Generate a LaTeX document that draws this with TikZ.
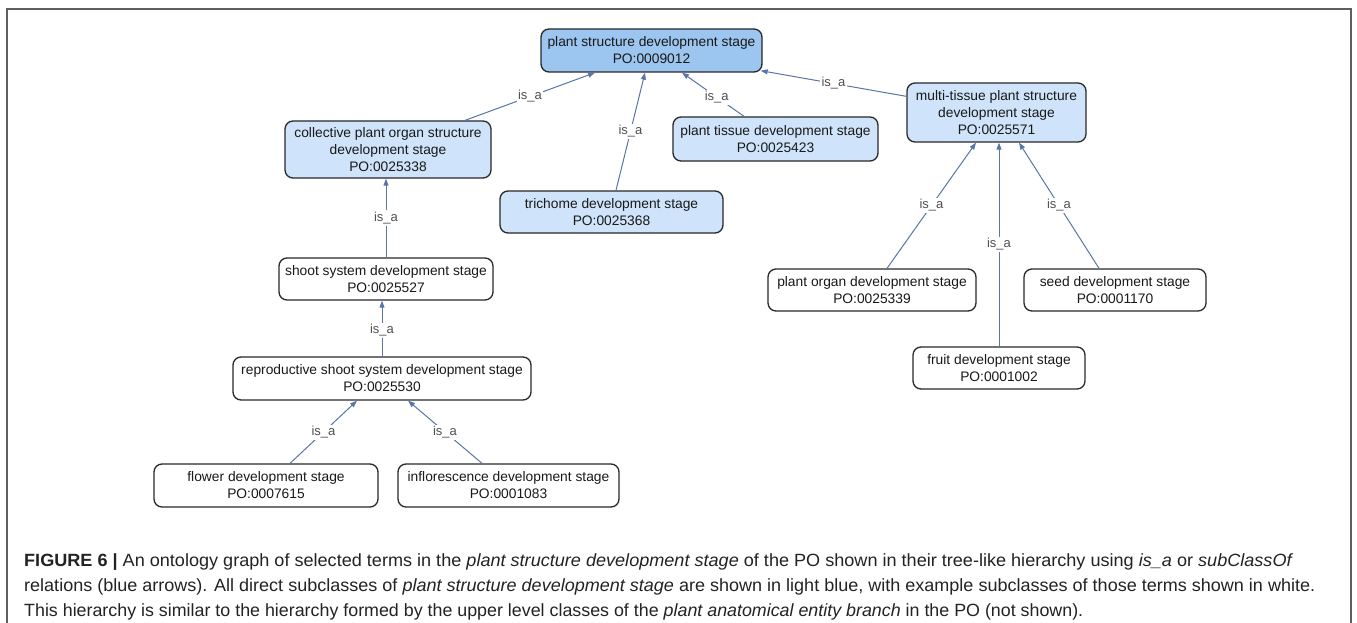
\documentclass[tikz,border=0pt]{standalone}
\usepackage{fontspec}
\setmainfont{Liberation Sans}
\usetikzlibrary{arrows.meta}
\definecolor{framegray}{RGB}{95,95,95}
\definecolor{rootblue}{RGB}{156,197,240}
\definecolor{subblue}{RGB}{207,228,250}
\definecolor{edgeblue}{RGB}{88,118,168}
\definecolor{labelgray}{RGB}{80,80,80}
\definecolor{nodeline}{RGB}{40,40,40}
\definecolor{captext}{RGB}{35,35,35}
% caption lines are set to a given width by scaling them horizontally
\newsavebox\capbox
\newlength\capw
\newcommand\capline[2]{\sbox\capbox{#2}\setlength\capw{\wd\capbox}\pgfmathsetmacro\capratio{#1/\capw}\scalebox{\capratio}[1]{\usebox\capbox}}

\begin{document}
\begin{tikzpicture}[x=1pt,y=-1pt,
  term/.style={draw=nodeline, line width=1.3pt, rounded corners=8pt, align=center,
    inner sep=0pt, text=black!90, font=\fontsize{13.8}{17}\selectfont},
  rootterm/.style={term, fill=rootblue},
  subterm/.style={term, fill=subblue},
  leafterm/.style={term, fill=white},
  isa/.style={draw=edgeblue, line width=1pt, -{Triangle[length=7pt,width=5pt]}},
  isalabel/.style={fill=white, inner sep=1.5pt, text=labelgray, font=\fontsize{13}{13}\selectfont},
  capstyle/.style={anchor=base west, inner sep=0pt, text=captext, font=\fontsize{17.7}{20}\selectfont}]

\useasboundingbox (0,0) rectangle (1357,623);
\fill[white] (0,0) rectangle (1357,623);

% outer frame
\draw[framegray, line width=1.5pt] (7,623) -- (7,9) -- (1351,9) -- (1351,623);

% terms
\node[rootterm, minimum width=221pt, minimum height=43pt] (top) at (651.5,50.5)
  {plant structure development stage\\PO:0009012};
\node[subterm, minimum width=206pt, minimum height=57pt] (coll) at (388,149.5)
  {collective plant organ structure\\development stage\\PO:0025338};
\node[subterm, minimum width=205pt, minimum height=44pt] (tissue) at (775.5,139)
  {plant tissue development stage\\PO:0025423};
\node[subterm, minimum width=179pt, minimum height=59pt] (multi) at (996.5,112.5)
  {multi-tissue plant structure\\development stage\\PO:0025571};
\node[subterm, minimum width=223pt, minimum height=42pt] (trich) at (611.5,212)
  {trichome development stage\\PO:0025368};
\node[leafterm, minimum width=214pt, minimum height=42pt] (shoot) at (386,279)
  {shoot system development stage\\PO:0025527};
\node[leafterm, minimum width=298pt, minimum height=43pt] (repro) at (382,378.5)
  {reproductive shoot system development stage\\PO:0025530};
\node[leafterm, minimum width=224pt, minimum height=43pt] (flower) at (266,485.5)
  {flower development stage\\PO:0007615};
\node[leafterm, minimum width=221pt, minimum height=43pt] (infl) at (508.5,485.5)
  {inflorescence development stage\\PO:0001083};
\node[leafterm, minimum width=208pt, minimum height=42pt] (organ) at (872,290)
  {plant organ development stage\\PO:0025339};
\node[leafterm, minimum width=182pt, minimum height=42pt] (seed) at (1115,290)
  {seed development stage\\PO:0001170};
\node[leafterm, minimum width=172pt, minimum height=42pt] (fruit) at (999,368)
  {fruit development stage\\PO:0001002};

% is_a relations, child to parent
\draw[isa] ([xshift=77pt]coll.north) -- node[isalabel]{is\_a} ([xshift=-56.5pt]top.south);
\draw[isa] ([xshift=4.5pt]trich.north) -- node[isalabel]{is\_a} ([xshift=-6.5pt]top.south);
\draw[isa] ([xshift=-31.5pt]tissue.north) -- node[isalabel, pos=0.44]{is\_a} ([xshift=30.5pt]top.south);
\draw[isa] ([yshift=-14pt]multi.north west) -- node[isalabel]{is\_a} ([xshift=-2pt,yshift=2pt]top.south east);
\draw[isa] (shoot.north) -- node[isalabel]{is\_a} (shoot.north |- coll.south);
\draw[isa] (repro.north) -- node[isalabel, pos=0.47]{is\_a} (repro.north |- shoot.south);
\draw[isa] ([xshift=24pt]flower.north) -- node[isalabel]{is\_a} ([xshift=-25pt]repro.south);
\draw[isa] ([xshift=-26.5pt]infl.north) -- node[isalabel]{is\_a} ([xshift=26pt]repro.south);
\draw[isa] ([xshift=15pt]organ.north) -- node[isalabel]{is\_a} ([xshift=-20.5pt]multi.south);
\draw[isa] (fruit.north) -- node[isalabel]{is\_a} (fruit.north |- multi.south);
\draw[isa] ([xshift=-16pt]seed.north) -- node[isalabel]{is\_a} ([xshift=22.5pt]multi.south);

% caption
\node[capstyle] (cap1) at (24,566) {\capline{1269}{\textbf{FIGURE 6 |} An ontology graph of selected terms in the \textit{plant structure development stage} of the PO shown in their tree-like hierarchy using \textit{is\_a} or \textit{subClassOf}}};
\node[capstyle] (cap2) at (24,591) {\capline{1291}{relations (blue arrows). All direct subclasses of \textit{plant structure development stage} are shown in light blue, with example subclasses of those terms shown in white.}};
\node[capstyle] (cap3) at (24,616) {\capline{1059}{This hierarchy is similar to the hierarchy formed by the upper level classes of the \textit{plant anatomical entity branch} in the PO (not shown).}};
\end{tikzpicture}
\end{document}
